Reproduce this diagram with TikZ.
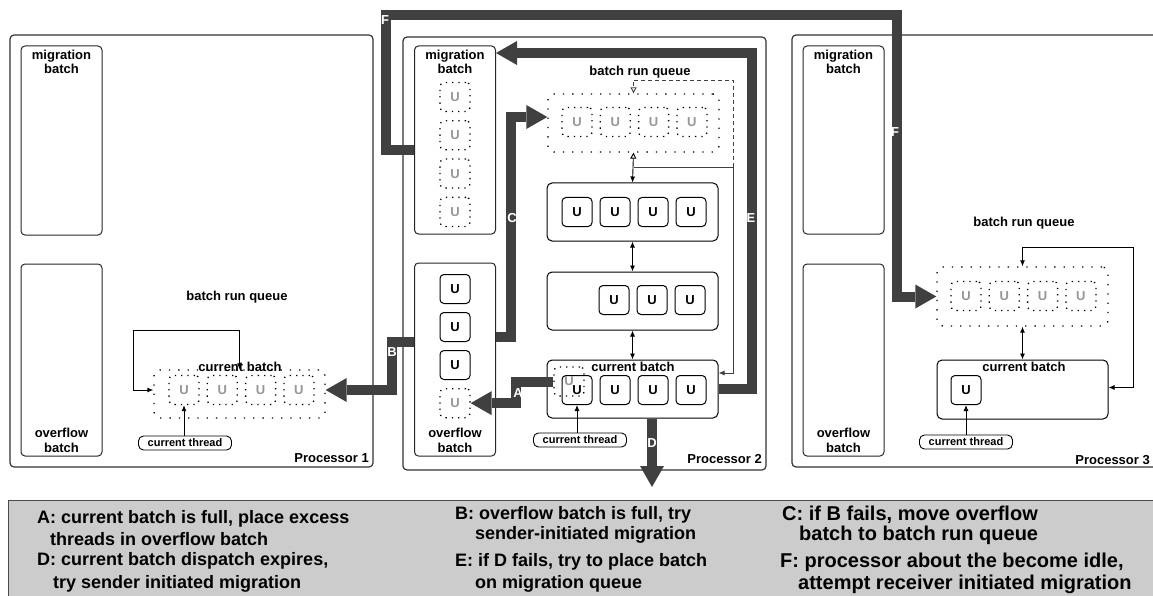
\documentclass[tikz,border=0pt]{standalone}
\usepackage{fontspec}
\setmainfont{Liberation Sans}
\usetikzlibrary{arrows.meta, positioning}
\definecolor{flowgray}{RGB}{64,64,64}
\definecolor{ghostgray}{RGB}{150,150,150}
\definecolor{legendgray}{RGB}{204,204,204}

\begin{document}
\begin{tikzpicture}[x=1pt, y=-1pt,
    proc/.style={draw=black!80, line width=1.2pt, rounded corners=4pt, inner sep=0pt},
    bin/.style={draw=black!85, line width=1pt, rounded corners=4pt,
        minimum width=81pt, inner sep=0pt},
    ubox/.style={draw, line width=1pt, rounded corners=4pt, minimum width=30pt,
        minimum height=29pt, inner sep=0pt, font=\fontsize{13}{14}\selectfont\bfseries},
    ughost/.style={ubox, line width=1.3pt, dash pattern=on 1.3pt off 5pt, text=ghostgray},
    queue/.style={draw, line width=1.3pt, dash pattern=on 1.3pt off 8pt,
        rounded corners=6pt, minimum width=171pt, inner sep=0pt},
    batch/.style={draw, line width=1pt, rounded corners=5pt, minimum width=171pt,
        minimum height=58pt, inner sep=0pt},
    lbl/.style={font=\fontsize{13}{14.5}\selectfont\bfseries, align=center, inner sep=0pt},
    thread/.style={draw, line width=0.9pt, rounded corners=5pt, minimum width=93pt,
        minimum height=14pt, inner sep=0pt, font=\fontsize{11}{12}\selectfont\bfseries},
    link/.style={line width=0.9pt, -{Latex[length=6pt,width=5pt]}},
    twoway/.style={line width=0.9pt, {Latex[length=6pt,width=5pt]}-{Latex[length=6pt,width=5pt]}},
    flow/.style={draw=flowgray, line width=10pt,
        -{Triangle[length=21pt,width=24pt,line width=0pt]}},
    tag/.style={text=white, font=\fontsize{13}{13}\selectfont\bfseries, inner sep=0pt},
    key/.style={font=\fontsize{18}{20}\selectfont\bfseries, anchor=west, inner sep=0pt},
    bigkey/.style={key, font=\fontsize{20}{22}\selectfont\bfseries}
  ]
\useasboundingbox (0,0) rectangle (1153,596);

% processors
\node[proc, minimum width=363pt, minimum height=432pt] (p1) at (191.5,251) {};
\node[proc, minimum width=363pt, minimum height=433pt] (p2) at (584.5,253.5) {};
\draw[draw=black!80, line width=1.2pt, rounded corners=4pt]
  (1153,35) -- (792,35) -- (792,467) -- (1153,467);
\node[lbl, anchor=east] (p1name) at (369,458) {Processor 1};
\node[lbl, anchor=east] (p2name) at (762,459) {Processor 2};
\node[lbl, anchor=east] (p3name) at (1150,460) {Processor 3};

% migration / overflow batches
\node[bin, minimum height=189pt,
  label={[lbl, anchor=north, inner sep=4pt]north:migration\\batch}] (mb1) at (61.5,140.5) {};
\node[bin, minimum height=192pt,
  label={[lbl, anchor=south, inner sep=4pt]south:overflow\\batch}] (ob1) at (61.5,360) {};
\node[bin, minimum height=188pt,
  label={[lbl, anchor=north, inner sep=4pt]north:migration\\batch}] (mb2) at (455,140) {};
\node[bin, minimum height=193pt,
  label={[lbl, anchor=south, inner sep=4pt]south:overflow\\batch}] (ob2) at (455,359.5) {};
\node[bin, minimum height=188pt,
  label={[lbl, anchor=north, inner sep=4pt]north:migration\\batch}] (mb3) at (843.5,140) {};
\node[bin, minimum height=192pt,
  label={[lbl, anchor=south, inner sep=4pt]south:overflow\\batch}] (ob3) at (843.5,360) {};

\node[ughost] (m21) at (455,97) {U};
\node[ughost, below=8pt of m21] (m22) {U};
\node[ughost, below=8pt of m22] (m23) {U};
\node[ughost, below=8pt of m23] (m24) {U};

\node[ubox] (o21) at (455,289) {U};
\node[ubox, below=8pt of o21] (o22) {U};
\node[ubox, below=8pt of o22] (o23) {U};
\node[ughost, below=8pt of o23] (o24) {U};

% processor 1 run queue
\node[lbl] (rq1) at (237,297) {batch run queue};
\node[queue, minimum height=48pt] (q1) at (239.5,394) {};
\node[lbl] (cb1name) at (240,367) {current batch};
\node[ughost] (g11) at (184,390) {U};
\node[ughost, right=7pt of g11] (g12) {U};
\node[ughost, right=7pt of g12] (g13) {U};
\node[ughost, right=7pt of g13] (g14) {U};
\node[thread] (ct1) at (185,443) {current thread};
\draw[twoway] (q1.west |- g11) -- ++(-20,0) |- (q1.north |- 0,330) -- (q1.north);
\draw[link] (ct1.north -| g11) -- (g11.south);

% processor 2 run queue
\node[lbl] (rq2) at (640,72) {batch run queue};
\node[queue, minimum height=58pt] (q2) at (633.5,123) {};
\node[ughost] (g21) at (577,122) {U};
\node[ughost, right=7pt of g21] (g22) {U};
\node[ughost, right=7pt of g22] (g23) {U};
\node[ughost, right=7pt of g23] (g24) {U};

\node[batch] (b1) at (632.5,212) {};
\node[ubox] (b11) at (577,212) {U};
\node[ubox, right=7pt of b11] (b12) {U};
\node[ubox, right=7pt of b12] (b13) {U};
\node[ubox, right=7pt of b13] (b14) {U};

\node[batch] (b2) at (632.5,301) {};
\node[ubox] (b22) at (614,300) {U};
\node[ubox, right=7pt of b22] (b23) {U};
\node[ubox, right=7pt of b23] (b24) {U};

\node[batch] (cb2) at (632.5,389) {};
\node[lbl] (cb2name) at (633,367) {current batch};
\node[ubox] (u21) at (577,390) {U};
\node[ubox, right=7pt of u21] (u22) {U};
\node[ubox, right=7pt of u22] (u23) {U};
\node[ubox, right=7pt of u23] (u24) {U};
\node[ughost] (gx) at (569,381.5) {U};
\node[thread] (ct2) at (580,440) {current thread};

\coordinate (jn) at (733,167);
\draw[line width=0.9pt, {Triangle[open,length=6pt,width=6pt]}-{Latex[length=6pt,width=5pt]}]
  (q2.south) -- (b1.north);
\draw[twoway] (b1.south) -- (b2.north);
\draw[twoway] (b2.south) -- (cb2.north);
\draw[line width=0.9pt, black!75] (jn) -- (q2.south |- jn);
\draw[link, black!75] (jn) |- ([yshift=16pt]cb2.east);
\draw[line width=0.9pt, black!75, dash pattern=on 4pt off 3pt,
  -{Triangle[open,length=6pt,width=6pt]}] (jn) -- (jn |- 0,80) -| (q2.north);
\draw[link] (ct2.north -| u21) -- (u21.south);

% processor 3 run queue
\node[lbl] (rq3) at (1024,223) {batch run queue};
\node[queue, minimum height=59pt] (q3) at (1022.5,296.5) {};
\node[ughost] (g31) at (966,296) {U};
\node[ughost, right=7pt of g31] (g32) {U};
\node[ughost, right=7pt of g32] (g33) {U};
\node[ughost, right=7pt of g33] (g34) {U};
\node[batch, minimum height=59pt] (cb3) at (1022.5,389.5) {};
\node[lbl] (cb3name) at (1024,367) {current batch};
\node[ubox] (u31) at (966,390) {U};
\node[thread] (ct3) at (966,442) {current thread};
\draw[twoway] (q3.south) -- (cb3.north);
\draw[twoway] ([yshift=2pt]cb3.east) -- ++(25,0) |- (q3.north |- 0,247) -- (q3.north);
\draw[link] (ct3.north -| u31) -- (u31.south);

% migration paths
\coordinate (dout) at (652,487);
\coordinate (ftop) at (897,15);
\draw[flow] (gx.west) -- ++(-37,0) |- (o24.east);
\draw[flow] (ob2.west |- 0,342) -- ++(-22,0) |- (q1.east |- g14);
\draw[flow] (ob2.east |- 0,337) -- ++(15,0) |- ([yshift=6pt]q2.west);
\draw[flow] (cb2.south -| dout) -- (dout);
\draw[flow] (cb2.east) -- ++(33,0) |- (mb2.east |- 0,53);
\draw[flow] (mb2.west |- 0,150) -| (386,15) -- (ftop) |- (q3.west);
\node[tag] (ta) at (518,393) {A};
\node[tag] (tb) at (392,352) {B};
\node[tag] (tc) at (512,218) {C};
\node[tag] (td) at (652,443) {D};
\node[tag] (te) at (751,218) {E};
\node[tag] (tf1) at (385,20) {F};
\node[tag] (tf2) at (895,132) {F};

% legend
\node[fill=legendgray, minimum width=1145pt, minimum height=96pt, inner sep=0pt,
  anchor=north west] (legend) at (8,500) {};
\draw[line width=1pt, black!70] (legend.south west) -- (legend.north west) -- (legend.north east);
\node[key] (ka1) at (37,519) {A: current batch is full, place excess};
\node[key] (ka2) at (50,539) {threads in overflow batch};
\node[key] (kd1) at (37,561) {D: current batch dispatch expires,};
\node[key] (kd2) at (53,584) {try sender initiated migration};
\node[key] (kb1) at (455,515) {B: overflow batch is full, try};
\node[key] (kb2) at (475,535) {sender-initiated migration};
\node[key] (ke1) at (455,562) {E: if D fails, try to place batch};
\node[key] (ke2) at (475,584) {on migration queue};
\node[bigkey] (kc1) at (782,515) {C: if B fails, move overflow};
\node[bigkey] (kc2) at (799,535) {batch to batch run queue};
\node[bigkey] (kf1) at (780,562) {F: processor about the become idle,};
\node[bigkey] (kf2) at (798,584) {attempt receiver initiated migration};
\end{tikzpicture}
\end{document}
